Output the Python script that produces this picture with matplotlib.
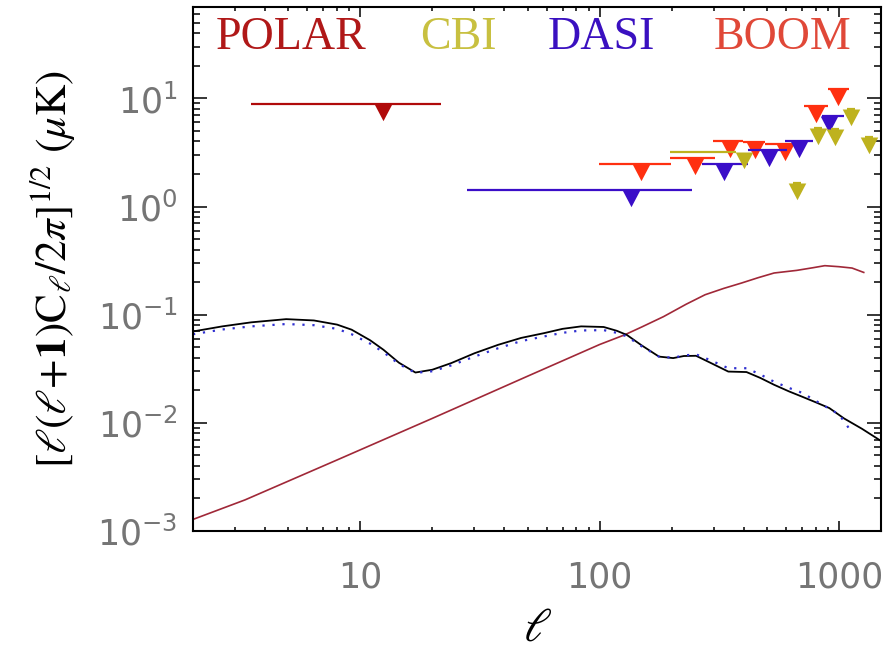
import matplotlib
matplotlib.use("Agg")
import matplotlib.pyplot as plt
from matplotlib.path import Path
import numpy as np

plt.rcParams["mathtext.fontset"] = "stix"

# --- model curves ---
ell_black = [2.0, 2.65, 3.5, 4.9, 6.4, 8, 9.2, 11, 12.5, 14.5, 17, 20, 24, 30, 37.7, 47,
             58.7, 70, 83.7, 104, 118, 130, 150, 177, 203, 225, 253, 290, 345, 411, 470,
             536, 620, 700, 800, 912, 1050, 1250, 1500]
amp_black = [0.070, 0.078, 0.085, 0.091, 0.0885, 0.081, 0.0727, 0.058, 0.0474, 0.036,
             0.0292, 0.031, 0.0357, 0.044, 0.0527, 0.061, 0.0676, 0.074, 0.078, 0.077,
             0.071, 0.065, 0.052, 0.041, 0.0397, 0.0415, 0.0417, 0.036, 0.0298, 0.0295,
             0.026, 0.0225, 0.0195, 0.0175, 0.0155, 0.0137, 0.011, 0.0088, 0.0068]

ell_blue = [2.0, 2.65, 3.5, 4.9, 6.4, 8, 9.2, 11, 12.5, 14.5, 17, 20, 24, 30, 37.7, 47,
            58.7, 70, 83.7, 104, 118, 130, 150, 177, 203, 225, 253, 290, 345, 411, 470,
            536, 620, 700, 800, 912, 1000, 1080, 1124]
amp_blue = [0.066, 0.073, 0.078, 0.082, 0.080, 0.074, 0.066, 0.054, 0.045, 0.035, 0.029,
            0.030, 0.034, 0.041, 0.049, 0.057, 0.063, 0.068, 0.0715, 0.072, 0.068, 0.063,
            0.051, 0.041, 0.040, 0.042, 0.043, 0.038, 0.032, 0.032, 0.028, 0.024, 0.021,
            0.019, 0.016, 0.0135, 0.012, 0.0095, 0.0083]

ell_red = [2, 3.3, 8, 20, 50, 100, 127, 150, 185, 230, 276, 330, 391, 460, 536, 667, 780,
           873, 1000, 1135, 1270]
amp_red = [0.00128, 0.00194, 0.00454, 0.011, 0.027, 0.053, 0.065, 0.077, 0.096, 0.125,
           0.153, 0.175, 0.196, 0.22, 0.243, 0.257, 0.272, 0.284, 0.278, 0.27, 0.246]

# --- upper limits: centre ell, limit, bin low, bin high ---
polar_l = [12.5]
polar_v = [8.8]
polar_lo = [3.5]
polar_hi = [21.7]

boom_l = [149, 250, 352, 444, 593, 800, 990]
boom_v = [2.5, 2.83, 4.03, 3.92, 3.75, 8.5, 12.1]
boom_lo = [99, 197, 298, 399, 490, 712, 897]
boom_hi = [198, 304, 398, 490, 700, 898, 1103]

dasi_l = [135, 332, 508, 679, 910]
dasi_v = [1.42, 2.5, 3.32, 4.03, 6.86]
dasi_lo = [28, 268, 418, 593, 853]
dasi_hi = [244, 418, 606, 776, 1050]

cbi_l = [400, 667, 820, 964, 1122, 1340]
cbi_v = [3.18, 1.66, 5.35, 5.16, 8.0, 4.39]
cbi_lo = [197, 640, 790, 930, 1080, 1290]
cbi_hi = [372, 695, 850, 1000, 1165, 1395]

experiments = [
    ("POLAR", polar_l, polar_v, polar_lo, polar_hi, "#b00a0a", "#b01818", 0.033),
    ("BOOM", boom_l, boom_v, boom_lo, boom_hi, "#ff3010", "#e04838", 0.757),
    ("DASI", dasi_l, dasi_v, dasi_lo, dasi_hi, "#3a0ec8", "#3a10c0", 0.516),
    ("CBI", cbi_l, cbi_v, cbi_lo, cbi_hi, "#beb21e", "#c8c040", 0.330),
]

# downward triangle hanging from the limit level
tri = Path([(-1.0, 0.0), (1.0, 0.0), (0.0, -1.9), (-1.0, 0.0)],
           [Path.MOVETO, Path.LINETO, Path.LINETO, Path.CLOSEPOLY])

fig = plt.figure(figsize=(8.94, 6.55), dpi=100)
ax = fig.add_axes([0.2159, 0.1893, 0.7696, 0.80])
ax.set_xscale("log")
ax.set_yscale("log")

ax.plot(ell_red, amp_red, color="#a02838", lw=1.2)
ax.plot(ell_black, amp_black, color="black", lw=1.3)
ax.plot(ell_blue, amp_blue, color="#3030d0", lw=1.6, ls=(0, (1, 3.5)))

for name, ls, vs, lo, hi, col, tcol, tx in experiments:
    ax.hlines(vs, lo, hi, colors=col, lw=1.6)
    ax.plot(ls, vs, ls="none", marker=tri, markersize=24, color=col, mec="none")
    ax.text(tx, 0.92, name, transform=ax.transAxes, color=tcol, fontsize=33,
            family="Liberation Serif", ha="left", va="baseline")

ax.set_xlim(2, 1500)
ax.set_ylim(1e-3, 70)
ax.set_xticks([10, 100, 1000])
ax.set_xticklabels(["10", "100", "1000"])
ax.set_yticks([1e-3, 1e-2, 1e-1, 1e0, 1e1])

for s in ax.spines.values():
    s.set_linewidth(1.5)
ax.tick_params(which="both", direction="in", top=True, right=True, width=1.1,
               colors="black", labelcolor="#757575", labelsize=25)
ax.tick_params(axis="x", which="major", length=7, pad=21)
ax.tick_params(axis="x", which="minor", length=3)
ax.tick_params(axis="y", which="major", length=10, pad=11)
ax.tick_params(axis="y", which="minor", length=5)

ax.set_xlabel(r"$\ell$", fontsize=34, labelpad=8)
ax.set_ylabel(r"$\left[\ell(\ell\!+\!\mathbf{1})\mathrm{C}_{\ell}/2\pi\right]^{1/2}\ (\mu\mathrm{K})$",
              fontsize=31, labelpad=14)

fig.savefig("out.png", dpi=100)
